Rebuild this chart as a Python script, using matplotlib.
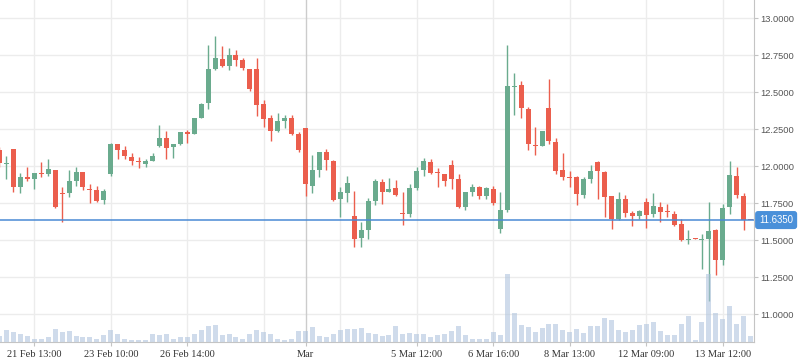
import matplotlib
matplotlib.use('Agg')
import matplotlib.pyplot as plt
import numpy as np

# ---- data ----
opens = [12.108, 12.015, 12.115, 11.860, 11.928, 11.912, 11.955, 11.946, 11.973, 11.821,
         11.820, 11.901, 11.959, 11.841, 11.836, 11.770, 11.946, 12.149, 12.108, 12.061,
         12.034, 12.016, 12.036, 12.137, 12.189, 12.130, 12.149, 12.230, 12.218, 12.326,
         12.428, 12.655, 12.723, 12.678, 12.750, 12.716, 12.655, 12.655, 12.419, 12.324,
         12.239, 12.306, 12.324, 12.218, 12.257, 11.867, 11.973, 12.095, 12.036, 11.777,
         11.820, 11.662, 11.516, 11.570, 11.766, 11.892, 11.826, 11.851, 11.686, 11.676,
         11.853, 11.973, 12.027, 11.959, 11.946, 12.007, 11.912, 11.725, 11.826, 11.858,
         11.799, 11.845, 11.576, 11.703, 12.537, 12.547, 12.385, 12.142, 12.137, 12.392,
         12.162, 11.973, 11.926, 11.926, 11.806, 11.914, 12.027, 11.959, 11.797, 11.644,
         11.777, 11.682, 11.664, 11.757, 11.678, 11.723, 11.691, 11.676, 11.608, 11.503,
         11.514, 11.500, 11.507, 11.568, 11.367, 11.725, 11.932, 11.797, 11.636]
highs = [12.130, 12.068, 12.115, 11.955, 11.995, 11.953, 12.027, 12.049, 11.973, 11.860,
         11.973, 11.995, 11.959, 11.878, 11.865, 11.843, 12.157, 12.149, 12.137, 12.086,
         12.061, 12.047, 12.088, 12.277, 12.236, 12.149, 12.230, 12.243, 12.324, 12.426,
         12.818, 12.878, 12.811, 12.797, 12.784, 12.730, 12.655, 12.730, 12.446, 12.345,
         12.358, 12.345, 12.345, 12.232, 12.257, 12.076, 12.095, 12.115, 12.041, 11.858,
         11.932, 11.831, 11.622, 11.784, 11.912, 11.912, 11.921, 11.905, 11.826, 11.878,
         11.993, 12.056, 12.047, 11.986, 11.946, 12.041, 11.946, 11.824, 11.878, 11.867,
         11.858, 11.865, 11.824, 12.818, 12.628, 12.574, 12.399, 12.264, 12.236, 12.588,
         12.189, 12.088, 11.966, 11.932, 11.926, 12.007, 12.036, 11.966, 11.797, 11.824,
         11.804, 11.696, 11.703, 11.784, 11.818, 11.757, 11.743, 11.696, 11.642, 11.568,
         11.514, 11.543, 11.759, 11.574, 11.743, 12.034, 11.993, 11.818, 11.636]
lows = [11.995, 11.912, 11.826, 11.821, 11.899, 11.845, 11.928, 11.934, 11.718, 11.625,
        11.793, 11.867, 11.838, 11.750, 11.757, 11.743, 11.934, 12.047, 12.047, 12.007,
        11.989, 11.995, 12.036, 12.128, 12.049, 12.056, 12.142, 12.157, 12.214, 12.326,
        12.387, 12.649, 12.671, 12.651, 12.678, 12.651, 12.507, 12.340, 12.266, 12.171,
        12.232, 12.257, 12.211, 12.097, 11.799, 11.820, 11.928, 11.973, 11.764, 11.657,
        11.759, 11.455, 11.455, 11.509, 11.739, 11.745, 11.826, 11.799, 11.603, 11.655,
        11.840, 11.934, 11.946, 11.860, 11.867, 11.847, 11.718, 11.705, 11.799, 11.779,
        11.779, 11.739, 11.549, 11.689, 12.347, 12.326, 12.108, 12.076, 12.137, 12.151,
        11.948, 11.905, 11.860, 11.739, 11.786, 11.887, 11.779, 11.657, 11.576, 11.637,
        11.657, 11.597, 11.644, 11.583, 11.657, 11.624, 11.657, 11.597, 11.495, 11.475,
        11.508, 11.306, 11.090, 11.265, 11.331, 11.676, 11.786, 11.568, 11.635]
closes = [12.018, 12.020, 11.860, 11.928, 11.912, 11.953, 11.948, 11.980, 11.725, 11.814,
          11.899, 11.959, 11.860, 11.836, 11.767, 11.831, 12.152, 12.110, 12.070, 12.034,
          12.025, 12.036, 12.068, 12.189, 12.124, 12.149, 12.230, 12.216, 12.324, 12.419,
          12.655, 12.730, 12.678, 12.750, 12.718, 12.664, 12.520, 12.414, 12.320, 12.239,
          12.304, 12.324, 12.218, 12.110, 11.880, 11.973, 12.095, 12.043, 11.770, 11.824,
          11.885, 11.509, 11.568, 11.764, 11.899, 11.826, 11.845, 11.806, 11.679, 11.851,
          11.966, 12.034, 11.953, 11.955, 11.901, 11.914, 11.725, 11.824, 11.858, 11.799,
          11.851, 11.752, 11.703, 12.541, 12.541, 12.395, 12.151, 12.137, 12.236, 12.166,
          11.968, 11.928, 11.921, 11.813, 11.912, 11.966, 11.968, 11.793, 11.644, 11.777,
          11.684, 11.664, 11.696, 11.671, 11.730, 11.691, 11.687, 11.603, 11.502, 11.507,
          11.510, 11.505, 11.561, 11.367, 11.716, 11.939, 11.806, 11.637, 11.635]
volumes = [57, 117, 97, 83, 57, 33, 33, 47, 133, 97,
           107, 57, 47, 47, 33, 67, 117, 77, 33, 23,
           23, 23, 77, 67, 77, 33, 47, 47, 83, 117,
           157, 173, 67, 77, 47, 33, 83, 117, 97, 83,
           33, 23, 33, 107, 107, 147, 57, 47, 83, 117,
           127, 127, 137, 87, 77, 57, 67, 157, 77, 87,
           77, 77, 47, 67, 77, 107, 157, 67, 33, 33,
           33, 97, 67, 683, 287, 167, 147, 97, 137, 183,
           177, 117, 97, 127, 87, 157, 157, 237, 217, 117,
           97, 117, 167, 177, 197, 107, 67, 67, 177, 257,
           17, 197, 677, 287, 227, 357, 177, 257, 57]
tick_idx = [5, 16, 27, 44, 60, 71, 82, 93, 104]
tick_labels = ['21 Feb 13:00', '23 Feb 10:00', '26 Feb 14:00', 'Mar', '5 Mar 12:00',
               '6 Mar 16:00', '8 Mar 13:00', '12 Mar 09:00', '13 Mar 12:00']
grid_idx = [5, 16, 27, 38, 49, 60, 71, 82, 93, 104]
month_idx = 44
price_ticks = [11.0, 11.25, 11.5, 11.75, 12.0, 12.25, 12.5, 12.75, 13.0]
last_price = 11.635

# ---- style ----
GREEN = '#6aab8e'
RED = '#eb5e4d'
GRID = '#ececec'
AXIS = '#c4c4c4'

W, H = 798, 363
fig = plt.figure(figsize=(W / 100, H / 100), dpi=100)
rect = [0, 21 / H, 754 / W, 342 / H]
ax = fig.add_axes(rect)
axv = fig.add_axes(rect, sharex=ax)
axv.set_zorder(ax.get_zorder() + 1)
axv.patch.set_visible(False)

n = len(opens)
x = np.arange(n)
o = np.array(opens); c = np.array(closes)
hi = np.array(highs); lo = np.array(lows)
up = c >= o
cols = np.where(up, GREEN, RED)

# grid
for p in price_ticks:
    ax.axhline(p, color=GRID, lw=1.0, zorder=0)
for g in grid_idx:
    ax.axvline(g, color=GRID, lw=1.0, zorder=0)
ax.axvline(month_idx, color='#cccccc', lw=1.0, zorder=0.5)

# candles
ax.vlines(x, lo, hi, colors=cols, lw=1.0, zorder=2)
body_bottom = np.minimum(o, c)
body_h = np.maximum(np.abs(c - o), 0.007)
ax.bar(x, body_h, bottom=body_bottom, width=0.72, color=cols, zorder=3, linewidth=0)

# last price line
ax.axhline(last_price, color='#4a8ad4', lw=1.1, zorder=4)
ax.annotate(f'{last_price:.4f}', xy=(1.0068, last_price), xycoords=('axes fraction', 'data'),
            ha='left', va='center', color='white', fontsize=6.9, family='Liberation Sans',
            bbox=dict(boxstyle='round,pad=0.42,rounding_size=0.3', fc='#4a90d9', ec='none'),
            annotation_clip=False, zorder=10)

# volume
axv.bar(x, volumes, width=0.72, color='#b0c4de', alpha=0.6, linewidth=0)
axv.set_ylim(0, 3420)
axv.axis('off')

# axes
ax.set_xlim(0.072, 108.48)
ax.set_ylim(10.811, 13.122)
for s in ['top', 'left']:
    ax.spines[s].set_visible(False)
ax.spines['right'].set_color(AXIS)
ax.spines['bottom'].set_color(AXIS)
ax.yaxis.tick_right()
ax.set_yticks(price_ticks)
ax.set_yticklabels([f'{p:.4f}' for p in price_ticks])
ax.tick_params(axis='y', length=3, color=AXIS, labelcolor='#555555', labelsize=6.7, pad=1.5)
for t in ax.get_yticklabels():
    t.set_family('Liberation Sans')
ax.set_xticks(tick_idx)
ax.set_xticklabels(tick_labels)
ax.tick_params(axis='x', length=3, color=AXIS, labelcolor='#333333', labelsize=7.5, pad=2.5)
for t in ax.get_xticklabels():
    t.set_family('Liberation Serif')

fig.savefig('out.png', dpi=100)
